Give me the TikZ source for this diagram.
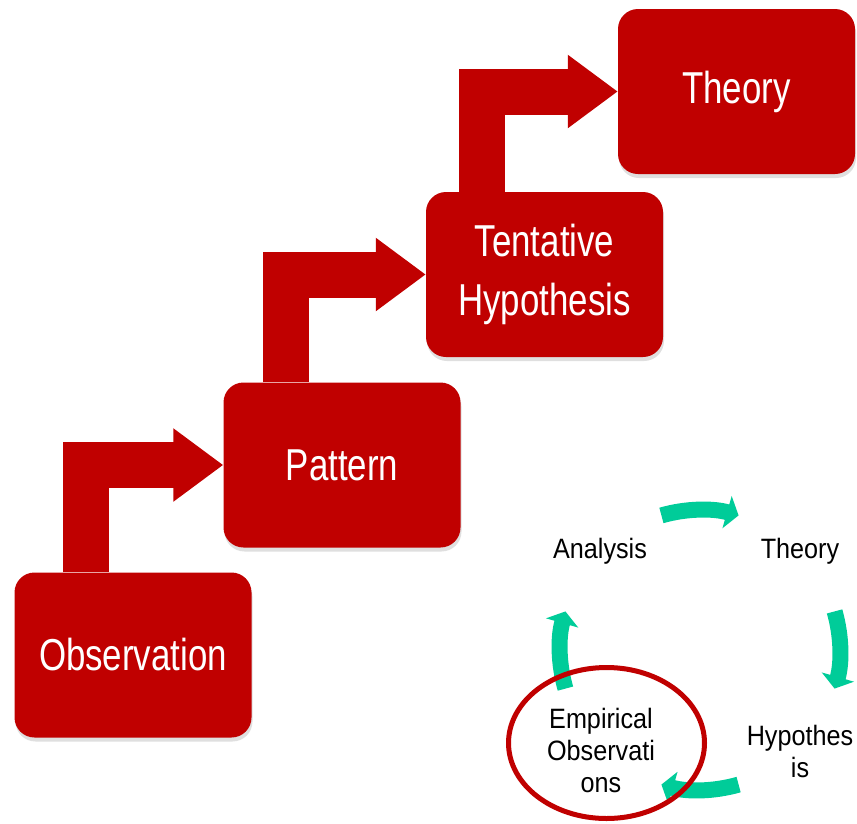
\documentclass[tikz,border=0pt]{standalone}
\usepackage{fontspec}
\setmainfont{Liberation Sans}
\newfontfamily\boxfont[FakeStretch=0.78]{Liberation Sans}
\newfontfamily\cyclefont[FakeStretch=0.9]{Liberation Sans}
\usetikzlibrary{arrows.meta,shadows}
\definecolor{boxred}{RGB}{192,0,0}
\definecolor{cyclegreen}{RGB}{0,204,153}

\tikzset{
  stepbox/.style={fill=boxred, rounded corners=20pt, minimum width=237pt, minimum height=165pt,
    text=white, align=center, font=\boxfont\fontsize{44.7}{59}\selectfont,
    drop shadow={opacity=0.25, shadow xshift=1pt, shadow yshift=-4pt}},
  bentarrow/.style={boxred, line width=46pt, line join=miter, -{Triangle[length=50pt,width=70pt]}},
  cyclearrow/.style={cyclegreen, line width=16pt, -{Triangle[length=12pt,width=33pt]}},
  cyclelabel/.style={align=center, font=\cyclefont\fontsize{28}{32}\selectfont}
}

\begin{document}
\begin{tikzpicture}[x=1pt,y=-1pt]
	\useasboundingbox (0,0) rectangle (857,823);
	% steps
	\node[stepbox] (obs) at (133,655) {Observation};
	\node[stepbox] (pat) at (342,465) {Pattern};
	\node[stepbox] (tent) at (544.5,274.5) {Tentative\\Hypothesis};
	\node[stepbox] (theo) at (736.5,91.5) {Theory};
	% bent arrows
	\draw[bentarrow] ([xshift=71.5pt]obs.north west) |- (pat.west);
	\draw[bentarrow] ([xshift=62.5pt]pat.north west) |- (tent.west);
	\draw[bentarrow] ([xshift=56.5pt]tent.north west) |- (theo.west);
	% cycle
	\coordinate (hub) at (700,650);
	\node[cyclelabel] (ana) at (600,551) {Analysis};
	\node[cyclelabel] (cyctheo) at (800,551) {Theory};
	\node[cyclelabel] (hyp) at (800,751) {Hypothes\\is};
	\node[cyclelabel] (emp) at (601,750) {Empirical\\Observati\\ons};
	\draw[cyclearrow] ([shift={(254:140)}]hub) arc[start angle=254, end angle=286, radius=140];
	\draw[cyclearrow] ([shift={(-16:140)}]hub) arc[start angle=-16, end angle=16, radius=140];
	\draw[cyclearrow] ([shift={(74:140)}]hub) arc[start angle=74, end angle=106, radius=140];
	\draw[cyclearrow] ([shift={(164:140)}]hub) arc[start angle=164, end angle=196, radius=140];
	% highlight
	\draw[boxred, line width=5pt] (606.5,743) ellipse [x radius=98, y radius=75.5];
\end{tikzpicture}
\end{document}
